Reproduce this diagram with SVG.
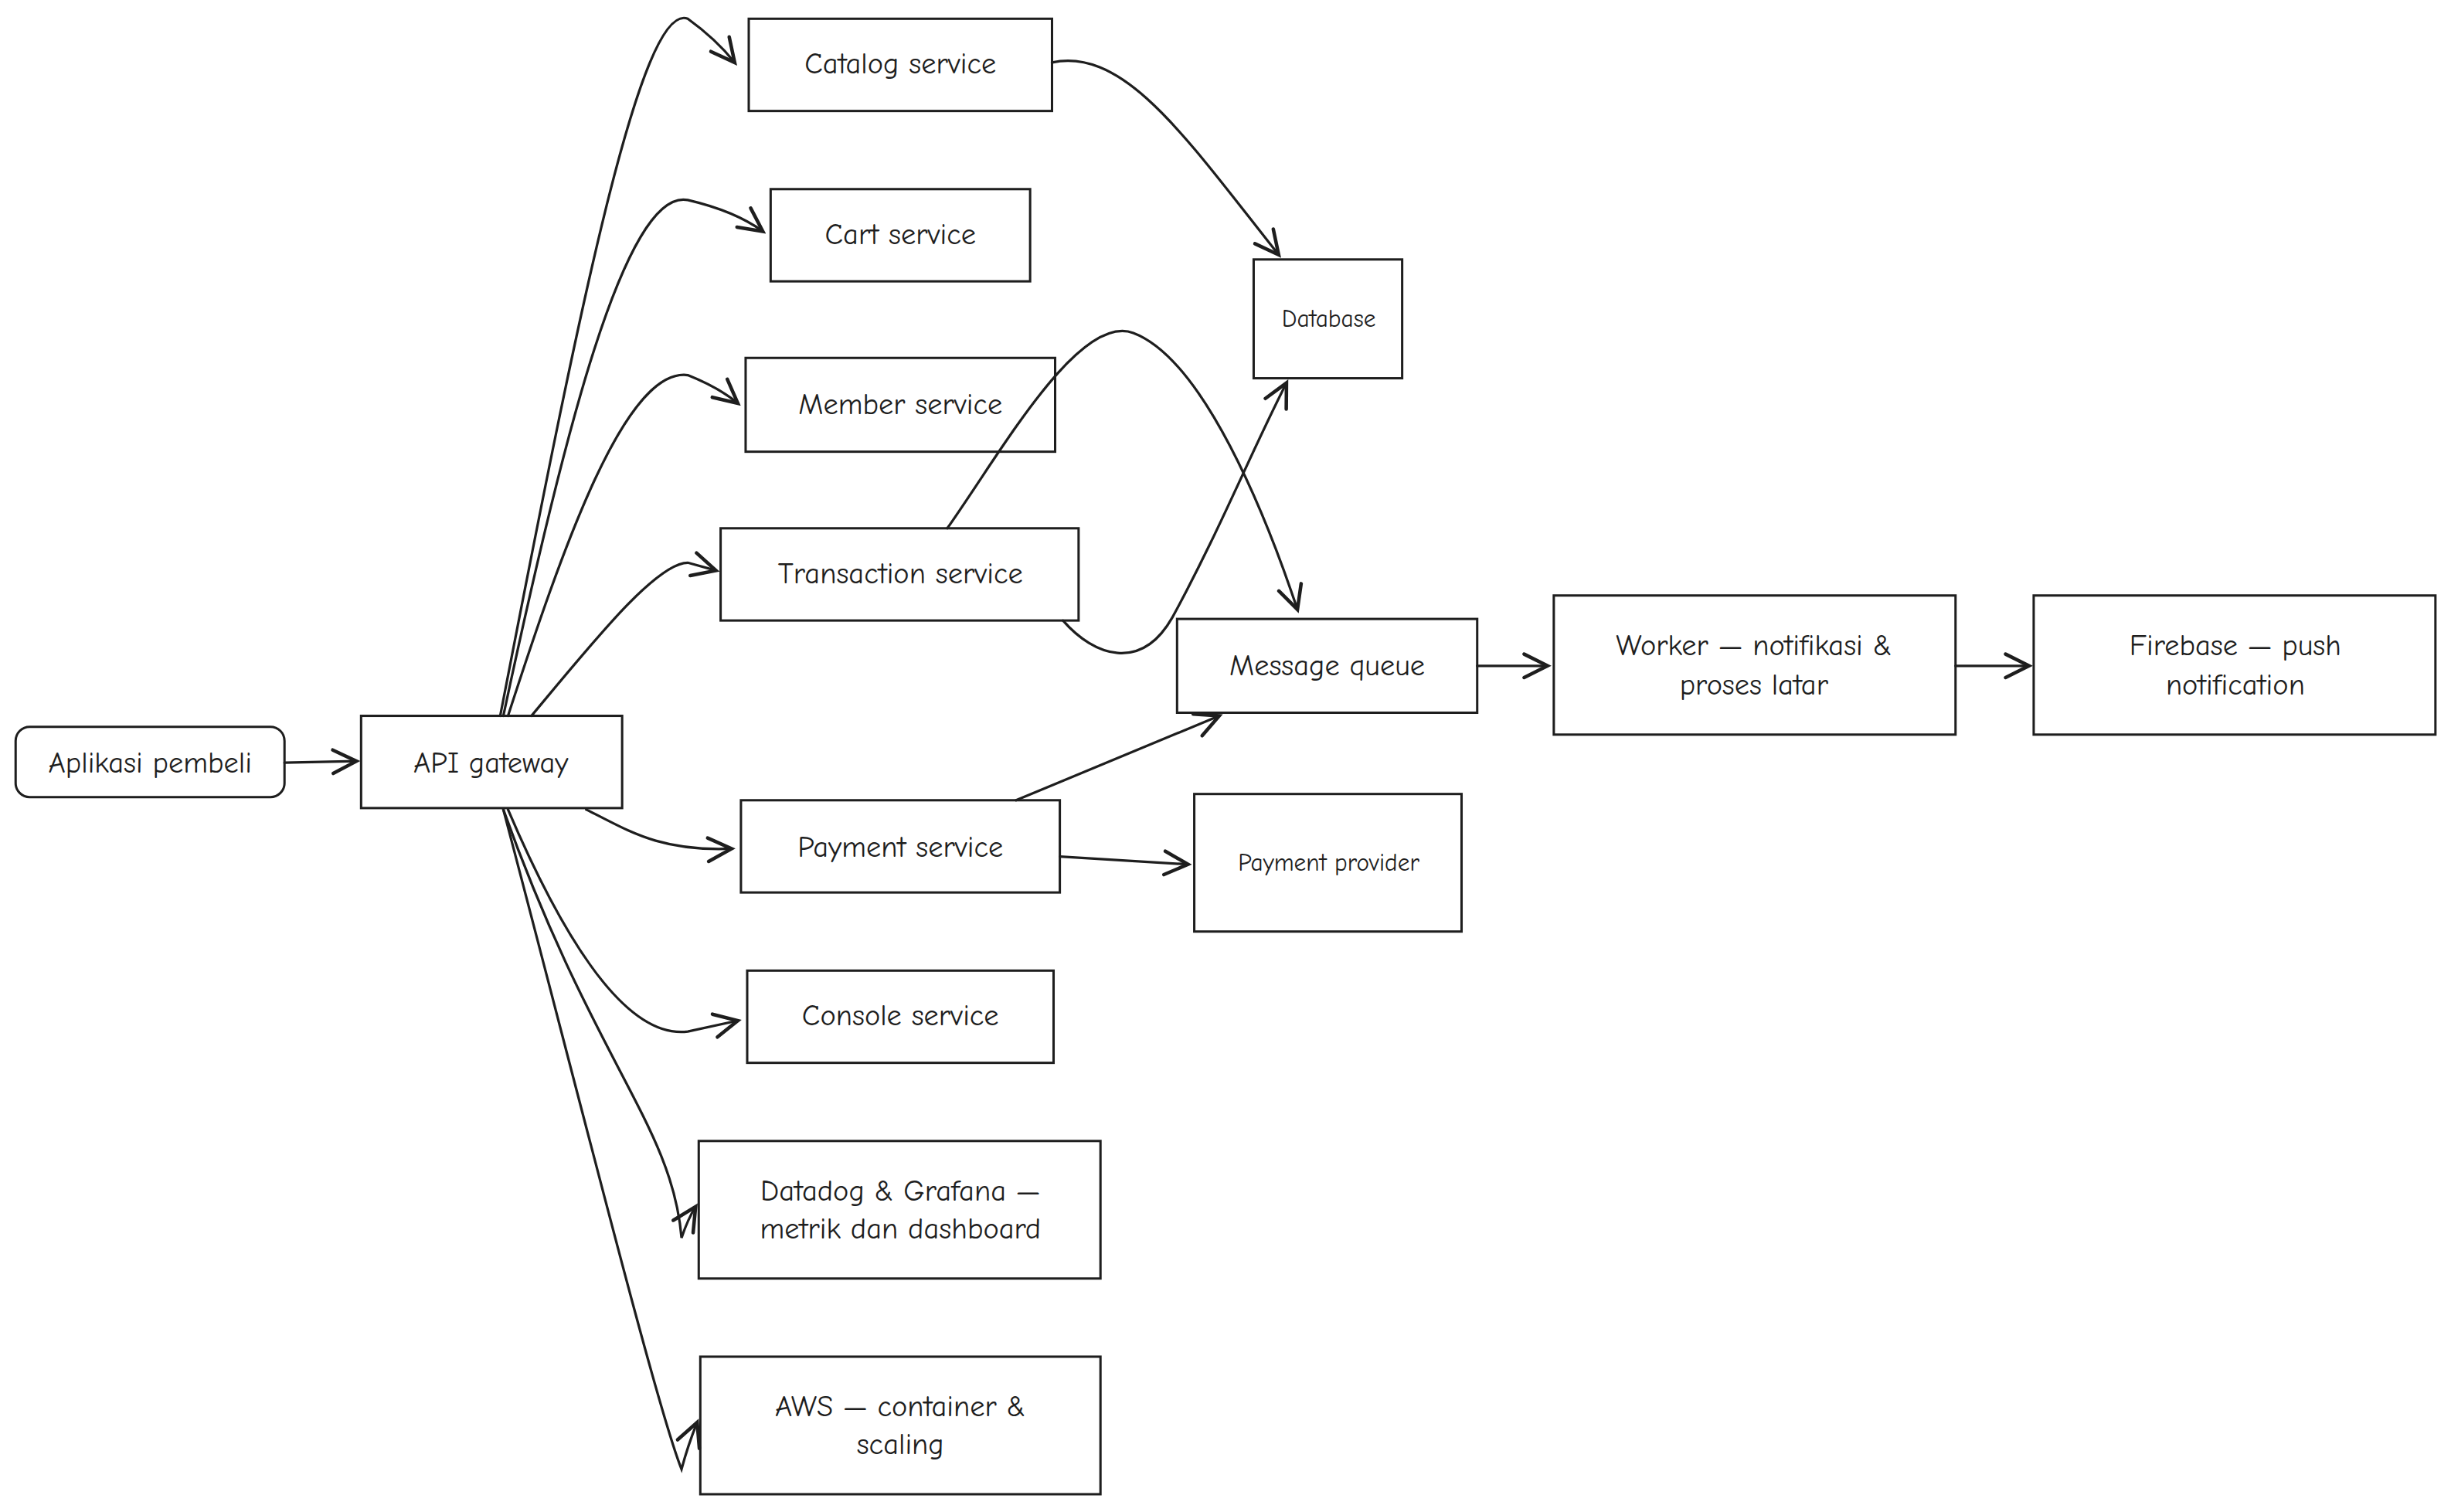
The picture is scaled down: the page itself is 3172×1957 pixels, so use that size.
<svg xmlns="http://www.w3.org/2000/svg" width="3172" height="1957" viewBox="0 0 3172 1957">
<style>
.n rect{fill:#fff;stroke:#1e1e1e;stroke-width:1.5}
.n text{font-family:"Comic Neue","Liberation Sans",sans-serif;font-size:19px;fill:#1e1e1e;text-anchor:middle;dominant-baseline:central}
.s text{font-size:15.5px}
#connectors path{fill:none;stroke:#1e1e1e;stroke-width:1.6;stroke-linecap:round;marker-end:url(#a)}
</style>
<defs>
<marker id="a" markerUnits="userSpaceOnUse" markerWidth="20" markerHeight="20" refX="14" refY="8" viewBox="0 0 16 16" orient="auto">
<path d="M2,2 L14,8 L2,14" fill="none" stroke="#1e1e1e" stroke-width="1.8" stroke-linecap="round"/>
</marker>
</defs>
<rect width="3172" height="1957" fill="#fff"/>
<g transform="scale(2.023)">
<g id="aplikasi" class="n"><rect x="10" y="465" width="172" height="45" rx="9"/><text x="96" y="488">Aplikasi pembeli</text></g>
<g id="api" class="n"><rect x="231" y="458" width="167" height="59"/><text x="314" y="488">API gateway</text></g>
<g id="catalog" class="n"><rect x="479" y="12" width="194" height="59"/><text x="576" y="41">Catalog service</text></g>
<g id="cart" class="n"><rect x="493" y="121" width="166" height="59"/><text x="576" y="150">Cart service</text></g>
<g id="member" class="n"><rect x="477" y="229" width="198" height="60"/><text x="576" y="259">Member service</text></g>
<g id="transaction" class="n"><rect x="461" y="338" width="229" height="59"/><text x="576" y="367">Transaction service</text></g>
<g id="payment" class="n"><rect x="474" y="512" width="204" height="59"/><text x="576" y="542">Payment service</text></g>
<g id="console" class="n"><rect x="478" y="621" width="196" height="59"/><text x="576" y="650">Console service</text></g>
<g id="datadog" class="n"><rect x="447" y="730" width="257" height="88"/><text x="576" y="762">Datadog &amp; Grafana —</text><text x="576" y="786">metrik dan dashboard</text></g>
<g id="aws" class="n"><rect x="448" y="868" width="256" height="88"/><text x="576" y="900">AWS — container &amp;</text><text x="576" y="924">scaling</text></g>
<g id="database" class="n s"><rect x="802" y="166" width="95" height="76"/><text x="850" y="204">Database</text></g>
<g id="mq" class="n"><rect x="753" y="396" width="192" height="60"/><text x="849" y="426">Message queue</text></g>
<g id="provider" class="n s"><rect x="764" y="508" width="171" height="88"/><text x="850" y="552">Payment provider</text></g>
<g id="worker" class="n"><rect x="994" y="381" width="257" height="89"/><text x="1122" y="413">Worker — notifikasi &amp;</text><text x="1122" y="438">proses latar</text></g>
<g id="firebase" class="n"><rect x="1301" y="381" width="257" height="89"/><text x="1430" y="413">Firebase — push</text><text x="1430" y="438">notification</text></g>
<g id="connectors">
<path d="M182,488 L228,487"/>
<path d="M320,458 C370,200 410,0 440,12 Q458,25 470,40"/>
<path d="M322,458 C360,280 400,120 440,128 Q470,135 488,148"/>
<path d="M325,458 C360,350 400,235 440,240 Q460,248 472,258"/>
<path d="M340,458 C380,410 420,360 440,360 L458,365"/>
<path d="M375,518 C400,530 420,545 468,543"/>
<path d="M325,518 C360,600 400,665 440,660 L472,653"/>
<path d="M322,518 C380,680 430,720 436,792 Q440,780 445,772"/>
<path d="M322,518 C370,700 420,900 436,940 Q440,925 446,910"/>
<path d="M673,40 C720,30 760,90 818,163"/>
<path d="M606,338 C640,290 690,200 725,213 C770,230 810,330 830,390"/>
<path d="M680,397 C700,420 730,430 750,395 C780,340 800,290 823,245"/>
<path d="M650,512 L780,458"/>
<path d="M678,548 L760,553"/>
<path d="M945,426 L990,426"/>
<path d="M1251,426 L1298,426"/>
</g>
</g>
</svg>
